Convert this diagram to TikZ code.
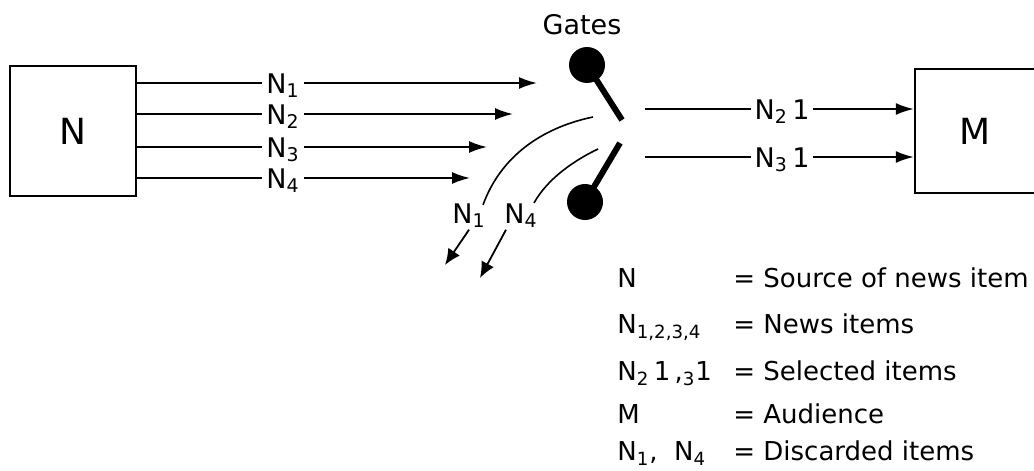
\documentclass[tikz,border=0pt]{standalone}
\usepackage{fontspec}
\setmainfont{DejaVu Sans}
\usepackage{tikz}
\usetikzlibrary{arrows.meta}
\tikzstyle{box}=[draw,line width=1.2pt,font=\fontsize{18}{18}\selectfont]
\tikzstyle{feed}=[line width=0.9pt,-{Latex[length=9pt,width=6pt]}]
\tikzstyle{drop}=[line width=0.9pt,-{Latex[length=8pt,width=7pt]}]
\tikzstyle{lbl}=[fill=white,inner sep=2pt,anchor=base,yshift=-5pt,font=\fontsize{13.5}{13.5}\selectfont]
\tikzstyle{key}=[anchor=base west,inner sep=0pt,font=\fontsize{13}{13}\selectfont]
\tikzstyle{gate}=[line width=3pt]

\begin{document}
\begin{tikzpicture}[x=0.5pt,y=-0.5pt]
    \useasboundingbox (0,0) rectangle (1034,471);
    % source and audience
    \node[box,minimum width=63pt,minimum height=65pt] (src) at (73,131) {N};
    \node[box,minimum width=60.5pt,minimum height=62pt] (aud) at (975.5,131) {M};
    % news items going to the gates
    \foreach \i/\y/\tip in {1/83/537, 2/114/513, 3/147/487, 4/178/470} {
        \coordinate (t\i) at (\tip,\y);
        \draw[feed] (src.east |- t\i) -- (t\i);
        \node[lbl] (n\i) at (283,\y) {N\textsubscript{\i}};
    }
    % the gates
    \node[font=\fontsize{13.5}{13.5}\selectfont] (gates) at (582,25) {Gates};
    \coordinate (g1) at (587,65);
    \coordinate (g2) at (585,202);
    \fill (g1) circle[radius=9pt];
    \fill (g2) circle[radius=9pt];
    \draw[gate] (g1) -- (622,120);
    \draw[gate] (g2) -- (620,143);
    % discarded items
    \node[anchor=base west,inner sep=1pt,font=\fontsize{13.5}{13.5}\selectfont] (d1) at (450,223) {N\textsubscript{1}};
    \node[anchor=base west,inner sep=1pt,font=\fontsize{13.5}{13.5}\selectfont] (d4) at (502,223) {N\textsubscript{4}};
    \coordinate (c1) at (593,117);
    \coordinate (c4) at (598,149);
    \draw[line width=0.8pt] (c1) .. controls (540,128) and (500,158) .. ([shift={(-5,4)}]d1.north east);
    \draw[line width=0.8pt] (c4) .. controls (575,160) and (548,178) .. ([shift={(-6,2)}]d4.north east);
    \coordinate (x1) at (445,265);
    \coordinate (x4) at (480,278);
    \draw[drop] (d1.south) -- (x1);
    \draw[drop] ([xshift=2pt]d4.south west) -- (x4);
    % selected items going to the audience
    \coordinate (o2) at (645,109);
    \coordinate (o3) at (645,157);
    \draw[feed] (o2) -- (aud.west |- o2);
    \draw[feed] (o3) -- (aud.west |- o3);
    \node[lbl] (s2) at (782,109) {N\textsubscript{2}\,1};
    \node[lbl] (s3) at (782,157) {N\textsubscript{3}\,1};
    % key
    \node[key] (k1) at (617,287) {N};
    \node[key] (k2) at (617,333) {N\textsubscript{1,2,3,4}};
    \node[key] (k3) at (617,380) {N\textsubscript{2}\,1\,,\textsubscript{3}1};
    \node[key] (k4) at (617,423) {M};
    \node[key] (k5) at (617,460) {N\textsubscript{1}, \ N\textsubscript{4}};
    \node[key] (v1) at (733,287) {= Source of news item};
    \node[key] (v2) at (733,333) {= News items};
    \node[key] (v3) at (733,380) {= Selected items};
    \node[key] (v4) at (733,423) {= Audience};
    \node[key] (v5) at (733,460) {= Discarded items};
\end{tikzpicture}
\end{document}
